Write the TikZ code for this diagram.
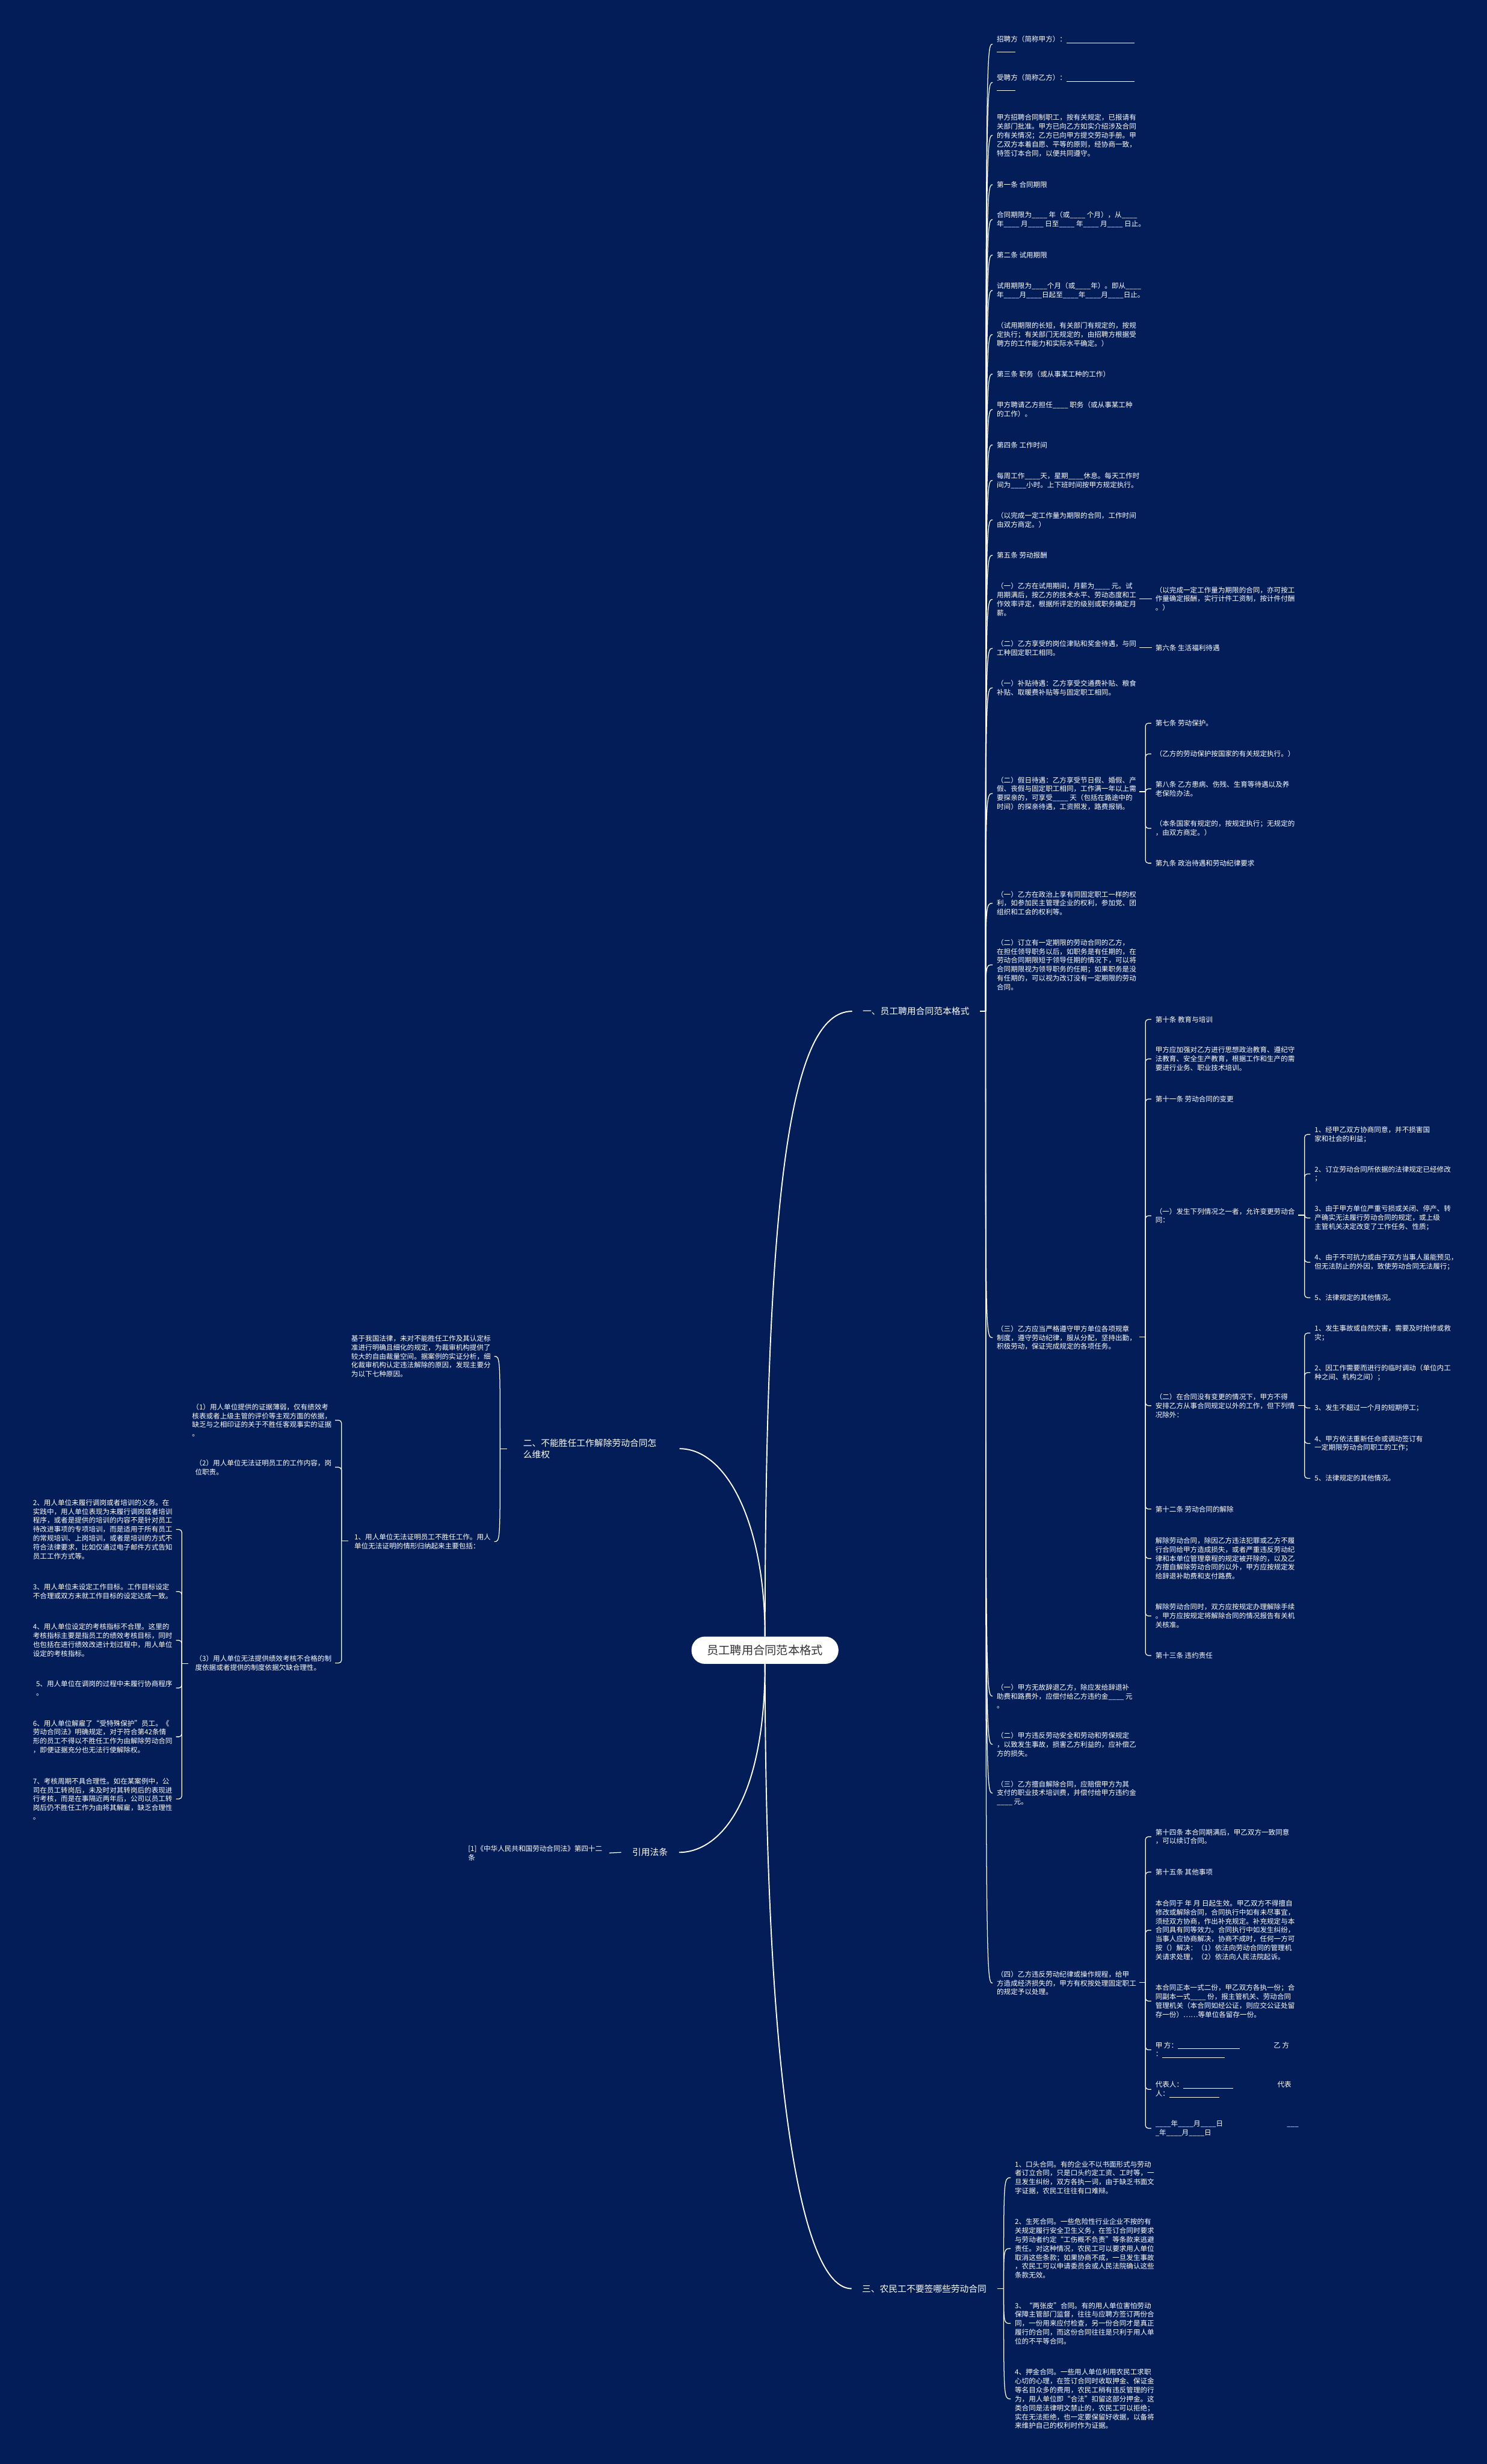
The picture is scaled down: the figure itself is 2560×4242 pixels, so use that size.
\documentclass[tikz,border=0pt]{standalone}
\usepackage{fontspec}
\newfontfamily\cjk{Noto Sans CJK SC}
\definecolor{bg}{RGB}{2,29,88}
\definecolor{rootink}{RGB}{51,51,51}
\begin{document}
\begin{tikzpicture}[x=1pt,y=-1pt,
  tx/.style={text=white,font=\cjk\fontsize{12}{15.4}\selectfont,align=left,inner sep=0pt},
  tl/.style={tx,anchor=west},
  tr/.style={tx,anchor=east},
  lab/.style={text=white,font=\cjk\fontsize{15.3}{20}\selectfont,align=left,inner ysep=2pt,inner xsep=18pt},
  rootbox/.style={fill=white,text=rootink,font=\cjk\fontsize{20}{24}\selectfont,rounded corners=23pt,minimum width=253pt,minimum height=47pt,inner sep=0pt},
  fan/.style={draw=white,line width=1.3pt},
  br/.style={draw=white,line width=1.3pt,rounded corners=5pt},
  mainc/.style={draw=white,line width=2pt},
]
\useasboundingbox (0,0) rectangle (2560,4242);
\fill[bg] (0,0) rectangle (2560,4242);

% root and branches
\node[rootbox] (root) at (1317,2841) {员工聘用合同范本格式};
\node[lab,anchor=west] (b1) at (1467,1741) {一、员工聘用合同范本格式};
\node[lab,anchor=east,inner xsep=28pt,text width=241pt] (b2) at (1170,2494) {二、不能胜任工作解除劳动合同怎\\么维权};
\node[lab,anchor=east,inner xsep=19pt] (b3) at (1169,3189) {引用法条};
\node[lab,anchor=west] (b4) at (1466,3940) {三、农民工不要签哪些劳动合同};

\draw[mainc] (root.north) .. controls (1318,2050) and (1360,1741) .. (b1.west);
\draw[mainc] (root.north) .. controls (1317,2620) and (1250,2494) .. (b2.east);
\draw[mainc] (root.south) .. controls (1317,3100) and (1240,3189) .. (b3.east);
\draw[mainc] (root.south) .. controls (1318,3600) and (1380,3940) .. (b4.west);

% ---------- branch 1 ----------
\coordinate (J1) at (1697,1741);
\draw[fan] (b1.east) -- (J1);
\node[tl] (n1) at (1716,76) {招聘方（简称甲方）：\rule[-2pt]{117pt}{0.8pt}\\\rule[-2pt]{32pt}{0.8pt}};
\node[tl] (n2) at (1716,142) {受聘方（简称乙方）：\rule[-2pt]{117pt}{0.8pt}\\\rule[-2pt]{32pt}{0.8pt}};
\node[tl] (n3) at (1716,233) {甲方招聘合同制职工，按有关规定，已报请有\\关部门批准。甲方已向乙方如实介绍涉及合同\\的有关情况；乙方已向甲方提交劳动手册。甲\\乙双方本着自愿、平等的原则，经协商一致，\\特签订本合同，以便共同遵守。};
\node[tl] (n4) at (1716,318) {第一条 合同期限};
\node[tl] (n5) at (1716,378) {合同期限为\_\_\_\_ 年（或\_\_\_\_ 个月），从\_\_\_\_\\年\_\_\_\_ 月\_\_\_\_ 日至\_\_\_\_ 年\_\_\_\_ 月\_\_\_\_ 日止。};
\node[tl] (n6) at (1716,439) {第二条 试用期限};
\node[tl] (n7) at (1716,500) {试用期限为\_\_\_\_个月（或\_\_\_\_年）。即从\_\_\_\_\\年\_\_\_\_月\_\_\_\_日起至\_\_\_\_年\_\_\_\_月\_\_\_\_日止。};
\node[tl] (n8) at (1716,576) {（试用期限的长短，有关部门有规定的，按规\\定执行；有关部门无规定的，由招聘方根据受\\聘方的工作能力和实际水平确定。）};
\node[tl] (n9) at (1716,644) {第三条 职务（或从事某工种的工作）};
\node[tl] (n10) at (1716,705) {甲方聘请乙方担任\_\_\_\_ 职务（或从事某工种\\的工作）。};
\node[tl] (n11) at (1716,766) {第四条 工作时间};
\node[tl] (n12) at (1716,827) {每周工作\_\_\_\_天，星期\_\_\_\_休息。每天工作时\\间为\_\_\_\_小时。上下班时间按甲方规定执行。};
\node[tl] (n13) at (1716,895) {（以完成一定工作量为期限的合同，工作时间\\由双方商定。）};
\node[tl] (n14) at (1716,956) {第五条 劳动报酬};
\node[tl] (n15) at (1716,1032) {（一）乙方在试用期间，月薪为\_\_\_\_ 元。试\\用期满后，按乙方的技术水平、劳动态度和工\\作效率评定，根据所评定的级别或职务确定月\\薪。};
\node[tl] (n16) at (1716,1116) {（二）乙方享受的岗位津贴和奖金待遇，与同\\工种固定职工相同。};
\node[tl] (n17) at (1716,1184) {（一）补贴待遇：乙方享受交通费补贴、粮食\\补贴、取暖费补贴等与固定职工相同。};
\node[tl] (n18) at (1716,1366) {（二）假日待遇：乙方享受节日假、婚假、产\\假、丧假与固定职工相同，工作满一年以上需\\要探亲的，可享受\_\_\_\_ 天（包括在路途中的\\时间）的探亲待遇，工资照发，路费报销。};
\node[tl] (n19) at (1716,1555) {（一）乙方在政治上享有同固定职工一样的权\\利，如参加民主管理企业的权利，参加党、团\\组织和工会的权利等。};
\node[tl] (n20) at (1716,1661) {（二）订立有一定期限的劳动合同的乙方，\\在担任领导职务以后，如职务是有任期的，在\\劳动合同期限短于领导任期的情况下，可以将\\合同期限视为领导职务的任期；如果职务是没\\有任期的，可以视为改订没有一定期限的劳动\\合同。};
\node[tl] (n21) at (1716,2303) {（三）乙方应当严格遵守甲方单位各项规章\\制度，遵守劳动纪律，服从分配，坚持出勤，\\积极劳动，保证完成规定的各项任务。};
\node[tl] (n22) at (1716,2920) {（一）甲方无故辞退乙方，除应发给辞退补\\助费和路费外，应偿付给乙方违约金\_\_\_\_ 元\\。};
\node[tl] (n23) at (1716,3003) {（二）甲方违反劳动安全和劳动和劳保规定\\，以致发生事故，损害乙方利益的，应补偿乙\\方的损失。};
\node[tl] (n24) at (1716,3087) {（三）乙方擅自解除合同，应赔偿甲方为其\\支付的职业技术培训费，并偿付给甲方违约金\\\_\_\_\_ 元。};
\node[tl] (n25) at (1716,3414) {（四）乙方违反劳动纪律或操作规程，给甲\\方造成经济损失的，甲方有权按处理固定职工\\的规定予以处理。};

\foreach \n in {n1,n2,n3,n4,n5,n6,n7,n8,n9,n10,n11,n12,n13,n14,n15,n16,n17,n18,n19,n20,n21,n22,n23,n24,n25}
  \draw[fan] (J1) .. controls (J1 |- \n.west) .. ([xshift=-7pt]\n.west);

% n15, n16 single children
\node[tl] (m15) at (1989,1031) {（以完成一定工作量为期限的合同，亦可按工\\作量确定报酬，实行计件工资制，按计件付酬\\。）};
\coordinate (s15) at (1962,1031);
\draw[fan] (s15) -- ([xshift=-6pt]m15.west);
\node[tl] (m16) at (1989,1115) {第六条 生活福利待遇};
\coordinate (s16) at (1962,1115);
\draw[fan] (s16) -- ([xshift=-6pt]m16.west);

% n18 children
\coordinate (s18) at (1961,1363);
\coordinate (J18) at (1972,1363);
\draw[fan] (s18) -- (J18);
\node[tl] (m18a) at (1989,1245) {第七条 劳动保护。};
\node[tl] (m18b) at (1989,1298) {（乙方的劳动保护按国家的有关规定执行。）};
\node[tl] (m18c) at (1989,1358) {第八条 乙方患病、伤残、生育等待遇以及养\\老保险办法。};
\node[tl] (m18d) at (1989,1426) {（本条国家有规定的，按规定执行；无规定的\\，由双方商定。）};
\node[tl] (m18e) at (1989,1486) {第九条 政治待遇和劳动纪律要求};
\foreach \n in {m18a,m18b,m18c,m18d,m18e}
  \draw[br] (J18) |- ([xshift=-7pt]\n.west);

% n21 children
\coordinate (s21) at (1961,2302);
\coordinate (J21) at (1972,2302);
\draw[fan] (s21) -- (J21);
\node[tl] (m21a) at (1989,1755) {第十条 教育与培训};
\node[tl] (m21b) at (1989,1823) {甲方应加强对乙方进行思想政治教育、遵纪守\\法教育、安全生产教育，根据工作和生产的需\\要进行业务、职业技术培训。};
\node[tl] (m21c) at (1989,1892) {第十一条 劳动合同的变更};
\node[tl] (m21d) at (1989,2093) {（一）发生下列情况之一者，允许变更劳动合\\同：};
\node[tl] (m21e) at (1989,2420) {（二）在合同没有变更的情况下，甲方不得\\安排乙方从事合同规定以外的工作，但下列情\\况除外：};
\node[tl] (m21f) at (1989,2598) {第十二条 劳动合同的解除};
\node[tl] (m21g) at (1989,2683) {解除劳动合同，除因乙方违法犯罪或乙方不履\\行合同给甲方造成损失，或者严重违反劳动纪\\律和本单位管理章程的规定被开除的，以及乙\\方擅自解除劳动合同的以外，甲方应按规定发\\给辞退补助费和支付路费。};
\node[tl] (m21h) at (1989,2782) {解除劳动合同时，双方应按规定办理解除手续\\。甲方应按规定将解除合同的情况报告有关机\\关核准。};
\node[tl] (m21i) at (1989,2850) {第十三条 违约责任};
\foreach \n in {m21a,m21b,m21c,m21d,m21e,m21f,m21g,m21h,m21i}
  \draw[br] (J21) |- ([xshift=-7pt]\n.west);

% m21d children
\coordinate (s21d) at (2235,2092);
\coordinate (J21d) at (2246,2092);
\draw[fan] (s21d) -- (J21d);
\node[tl] (p1) at (2263,1953) {1、经甲乙双方协商同意，并不损害国\\家和社会的利益；};
\node[tl] (p2) at (2263,2021) {2、订立劳动合同所依据的法律规定已经修改\\；};
\node[tl] (p3) at (2263,2097) {3、由于甲方单位严重亏损或关闭、停产、转\\产确实无法履行劳动合同的规定，或上级\\主管机关决定改变了工作任务、性质；};
\node[tl] (p4) at (2263,2173) {4、由于不可抗力或由于双方当事人虽能预见，\\但无法防止的外因，致使劳动合同无法履行；};
\node[tl] (p5) at (2263,2234) {5、法律规定的其他情况。};
\foreach \n in {p1,p2,p3,p4,p5}
  \draw[br] (J21d) |- ([xshift=-7pt]\n.west);

% m21e children
\coordinate (s21e) at (2235,2420);
\coordinate (J21e) at (2246,2420);
\draw[fan] (s21e) -- (J21e);
\node[tl] (q1) at (2263,2295) {1、发生事故或自然灾害，需要及时抢修或救\\灾；};
\node[tl] (q2) at (2263,2363) {2、因工作需要而进行的临时调动（单位内工\\种之间、机构之间）；};
\node[tl] (q3) at (2263,2424) {3、发生不超过一个月的短期停工；};
\node[tl] (q4) at (2263,2485) {4、甲方依法重新任命或调动签订有\\一定期限劳动合同职工的工作；};
\node[tl] (q5) at (2263,2545) {5、法律规定的其他情况。};
\foreach \n in {q1,q2,q3,q4,q5}
  \draw[br] (J21e) |- ([xshift=-7pt]\n.west);

% n25 children
\coordinate (s25) at (1961,3413);
\coordinate (J25) at (1972,3413);
\draw[fan] (s25) -- (J25);
\node[tl] (m25a) at (1989,3162) {第十四条 本合同期满后，甲乙双方一致同意\\，可以续订合同。};
\node[tl] (m25b) at (1989,3223) {第十五条 其他事项};
\node[tl] (m25c) at (1989,3323) {本合同于 年 月 日起生效。甲乙双方不得擅自\\修改或解除合同，合同执行中如有未尽事宜，\\须经双方协商，作出补充规定。补充规定与本\\合同具有同等效力。合同执行中如发生纠纷，\\当事人应协商解决，协商不成时，任何一方可\\按（）解决：（1）依法向劳动合同的管理机\\关请求处理，（2）依法向人民法院起诉。};
\node[tl] (m25d) at (1989,3445) {本合同正本一式二份，甲乙双方各执一份；合\\同副本一式\_\_\_\_ 份，报主管机关、劳动合同\\管理机关（本合同如经公证，则应交公证处留\\存一份）……等单位各留存一份。};
\node[tl] (m25e) at (1989,3529) {甲\ 方：\rule[-2pt]{107pt}{0.8pt}\hspace{58pt}乙\ 方\\：\rule[-2pt]{107pt}{0.8pt}};
\node[tl] (m25f) at (1989,3597) {代表人：\rule[-2pt]{86pt}{0.8pt}\hspace{76pt}代表\\人：\rule[-2pt]{86pt}{0.8pt}};
\node[tl] (m25g) at (1989,3664) {\_\_\_\_年\_\_\_\_月\_\_\_\_日\hspace{110pt}\_\_\_\\\_年\_\_\_\_月\_\_\_\_日};
\foreach \n in {m25a,m25b,m25c,m25d,m25e,m25f,m25g}
  \draw[br] (J25) |- ([xshift=-7pt]\n.west);

% ---------- branch 2 ----------
\coordinate (J2) at (861,2494);
\draw[fan] (b2.west) -- (J2);
\node[tr] (c2a) at (845,2335) {基于我国法律，未对不能胜任工作及其认定标\\准进行明确且细化的规定，为裁审机构提供了\\较大的自由裁量空间。据案例的实证分析，细\\化裁审机构认定违法解除的原因，发现主要分\\为以下七种原因。};
\node[tr] (c2b) at (845,2654) {1、用人单位无法证明员工不胜任工作。用人\\单位无法证明的情形归纳起来主要包括：\hspace{25pt}};
\foreach \n in {c2a,c2b}
  \draw[fan] (J2) .. controls (J2 |- \n.east) .. ([xshift=6pt]\n.east);

\coordinate (s2b) at (600,2653);
\coordinate (J2b) at (588,2653);
\draw[fan] (s2b) -- (J2b);
\node[tr] (d1) at (571,2445) {（1）用人单位提供的证据薄弱，仅有绩效考\\核表或者上级主管的评价等主观方面的依据，\\缺乏与之相印证的关于不胜任客观事实的证据\\。};
\node[tr] (d2) at (571,2526) {（2）用人单位无法证明员工的工作内容，岗\\位职责。\hspace{186pt}};
\node[tr] (d3) at (571,2863) {（3）用人单位无法提供绩效考核不合格的制\\度依据或者提供的制度依据欠缺合理性。};
\foreach \n in {d1,d2,d3}
  \draw[br] (J2b) |- ([xshift=6pt]\n.east);

\coordinate (s3) at (324,2864);
\coordinate (J3) at (313,2864);
\draw[fan] (s3) -- (J3);
\node[tr] (e2) at (297,2633) {2、用人单位未履行调岗或者培训的义务。在\\实践中，用人单位表现为未履行调岗或者培训\\程序，或者是提供的培训的内容不是针对员工\\待改进事项的专项培训，而是适用于所有员工\\的常规培训、上岗培训，或者是培训的方式不\\符合法律要求，比如仅通过电子邮件方式告知\\员工工作方式等。};
\node[tr] (e3) at (297,2740) {3、用人单位未设定工作目标。工作目标设定\\不合理或双方未就工作目标的设定达成一致。};
\node[tr] (e4) at (297,2824) {4、用人单位设定的考核指标不合理。这里的\\考核指标主要是指员工的绩效考核目标，同时\\也包括在进行绩效改进计划过程中，用人单位\\设定的考核指标。};
\node[tr] (e5) at (297,2906) {5、用人单位在调岗的过程中未履行协商程序\\。};
\node[tr] (e6) at (297,2990) {6、用人单位解雇了“受特殊保护”员工。《\\劳动合同法》明确规定，对于符合第42条情\\形的员工不得以不胜任工作为由解除劳动合同\\，即便证据充分也无法行使解除权。};
\node[tr] (e7) at (297,3097) {7、考核周期不具合理性。如在某案例中，公\\司在员工转岗后，未及时对其转岗后的表现进\\行考核，而是在事隔近两年后，公司以员工转\\岗后仍不胜任工作为由将其解雇，缺乏合理性\\。};
\foreach \n in {e2,e3,e4,e5,e6,e7}
  \draw[br] (J3) |- ([xshift=6pt]\n.east);

% ---------- branch 3 ----------
\node[tr] (lc) at (1037,3190) {[1]《中华人民共和国劳动合同法》第四十二\\条};
\draw[fan] (b3.west) -- ([xshift=12pt]lc.east);

% ---------- branch 4 ----------
\coordinate (J4) at (1728,3940);
\draw[fan] (b4.east) -- (J4);
\node[tl] (f1) at (1747,3749) {1、口头合同。有的企业不以书面形式与劳动\\者订立合同，只是口头约定工资、工时等，一\\旦发生纠纷，双方各执一词，由于缺乏书面文\\字证据，农民工往往有口难辩。};
\node[tl] (f2) at (1747,3871) {2、生死合同。一些危险性行业企业不按的有\\关规定履行安全卫生义务，在签订合同时要求\\与劳动者约定“工伤概不负责”等条款来逃避\\责任。对这种情况，农民工可以要求用人单位\\取消这些条款；如果协商不成，一旦发生事故\\，农民工可以申请委员会或人民法院确认这些\\条款无效。};
\node[tl] (f3) at (1747,4000) {3、“两张皮”合同。有的用人单位害怕劳动\\保障主管部门监督，往往与应聘方签订两份合\\同，一份用来应付检查，另一份合同才是真正\\履行的合同，而这份合同往往是只利于用人单\\位的不平等合同。};
\node[tl] (f4) at (1747,4130) {4、押金合同。一些用人单位利用农民工求职\\心切的心理，在签订合同时收取押金、保证金\\等名目众多的费用，农民工稍有违反管理的行\\为，用人单位即“合法”扣留这部分押金。这\\类合同是法律明文禁止的，农民工可以拒绝；\\实在无法拒绝，也一定要保留好收据，以备将\\来维护自己的权利时作为证据。};
\foreach \n in {f1,f2,f3,f4}
  \draw[fan] (J4) .. controls (J4 |- \n.west) .. ([xshift=-7pt]\n.west);
\end{tikzpicture}
\end{document}
